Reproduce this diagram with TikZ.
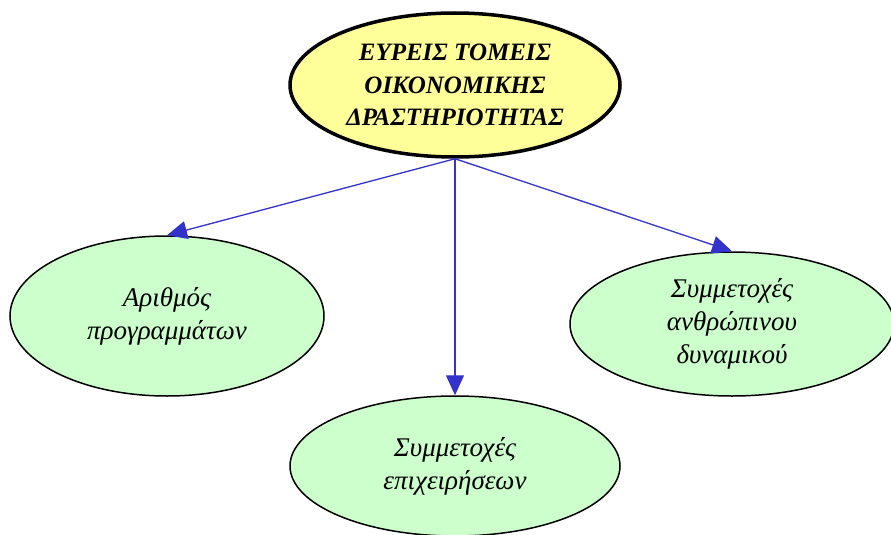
\documentclass[tikz,border=0pt]{standalone}
\usepackage{fontspec}
\setmainfont{Liberation Serif}
\usetikzlibrary{shapes.geometric,arrows.meta}
\definecolor{topfill}{HTML}{FFFF99}
\definecolor{leaffill}{HTML}{CCFFCC}
\definecolor{arrowblue}{HTML}{3333CC}
\begin{document}
\begin{tikzpicture}[x=1pt,y=-1pt,
  topnode/.style={ellipse,draw=black,line width=3.5pt,fill=topfill,inner sep=0pt,
    minimum width=330pt,minimum height=144pt,align=center,
    font=\fontsize{25}{32.5}\selectfont\bfseries\itshape},
  leafnode/.style={ellipse,draw=black,line width=1.5pt,fill=leaffill,inner sep=0pt,
    align=center,font=\fontsize{27}{33}\selectfont\itshape},
  link/.style={draw=arrowblue,line width=1.3pt,-{Triangle[length=20pt,width=18pt]}}]
\useasboundingbox (0,0) rectangle (891,535);
\node[topnode] (top) at (455,85) {ΕΥΡΕΙΣ ΤΟΜΕΙΣ\\ΟΙΚΟΝΟΜΙΚΗΣ\\ΔΡΑΣΤΗΡΙΟΤΗΤΑΣ};
\node[leafnode,minimum width=314pt,minimum height=160pt] (prog) at (167,316) {Αριθμός\\προγραμμάτων};
\node[leafnode,minimum width=330pt,minimum height=140pt] (epix) at (455,466) {Συμμετοχές\\επιχειρήσεων};
\node[leafnode,minimum width=324pt,minimum height=144pt] (anth) at (732,324) {Συμμετοχές\\ανθρώπινου\\δυναμικού};
\draw[link] (top.south) -- (prog.north);
\draw[link] (top.south) -- (epix.north);
\draw[link] (top.south) -- (anth.north);
\end{tikzpicture}
\end{document}
